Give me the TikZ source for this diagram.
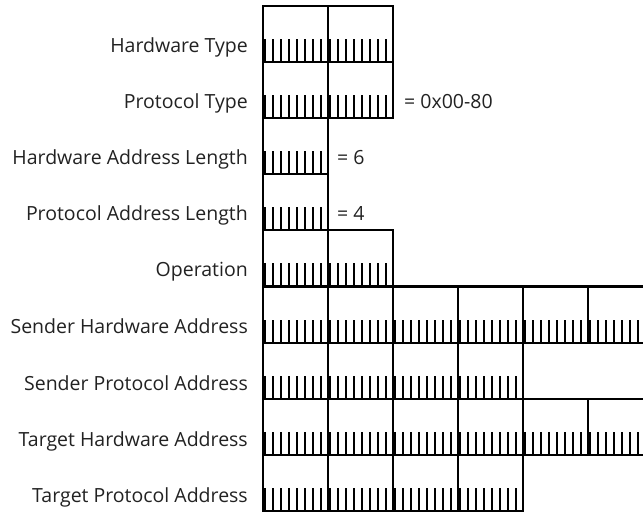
\documentclass[tikz,border=0pt]{standalone}
\usepackage{fontspec}
\setmainfont{Open Sans}
\usepackage{xcolor}
\usetikzlibrary{positioning}
\definecolor{ARPInk}{RGB}{0, 0, 0}
\definecolor{ARPText}{RGB}{34, 34, 34}

\begin{document}
\begin{tikzpicture}[x=1pt,y=-1pt,
    fieldname/.style={anchor=base east, text=ARPText, inner sep=0pt, font=\fontsize{19.5}{22}\selectfont},
    fieldval/.style={anchor=base west, text=ARPText, inner sep=0pt, font=\fontsize{19.5}{22}\selectfont},
    bytebox/.style={draw=ARPInk, line width=2.2pt},
    bittick/.style={draw=ARPInk, line width=2.2pt}]
  \path[use as bounding box] (0,0) rectangle (643,513);
  \clip (0,0) rectangle (643,513);
  \fill[white] (0,0) rectangle (643,513);

  % byte grid: row / number of bytes
  \foreach \r/\n in {0/2, 1/2, 2/1, 3/1, 4/2, 5/6, 6/4, 7/6, 8/4} {
    \foreach \b in {1,...,\n} {
      \draw[bytebox] ({263+(\b-1)*65}, {6+\r*56.1}) rectangle ++(65, 56.1);
      \foreach \k in {0,...,7}
        \draw[bittick] ({263+(\b-1)*65+1.5+\k*8.1}, {6+\r*56.1+56.1}) -- ++(0,-23);
    }
  }

  % field names
  \node[fieldname] (hwtype)   at (248, 53)  {Hardware Type};
  \node[fieldname] (prtype)   at (248, 109) {Protocol Type};
  \node[fieldname] (hwlen)    at (248, 165) {Hardware Address Length};
  \node[fieldname] (prlen)    at (248, 221) {Protocol Address Length};
  \node[fieldname] (opcode)   at (248, 277) {Operation};
  \node[fieldname] (sndhw)    at (248, 334) {Sender Hardware Address};
  \node[fieldname] (sndpr)    at (248, 390) {Sender Protocol Address};
  \node[fieldname] (tgthw)    at (248, 446) {Target Hardware Address};
  \node[fieldname] (tgtpr)    at (248, 502) {Target Protocol Address};

  % fixed values
  \node[fieldval] (prtypeval) at (404, 109) {= 0x00-80};
  \node[fieldval] (hwlenval)  at (337, 165) {= 6};
  \node[fieldval] (prlenval)  at (337, 221) {= 4};
\end{tikzpicture}
\end{document}
